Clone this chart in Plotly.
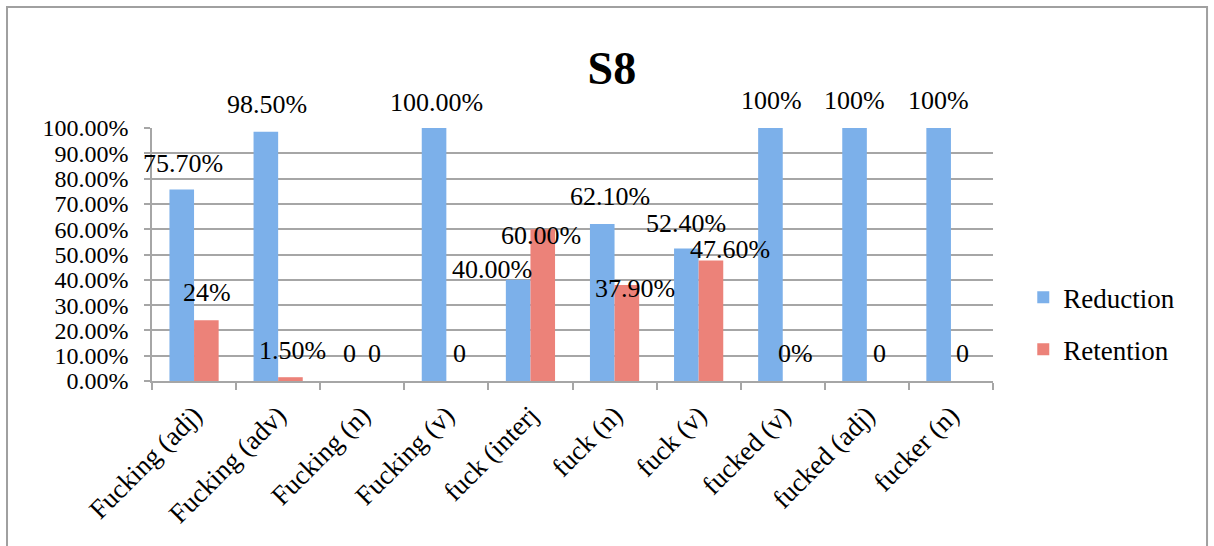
import plotly.graph_objects as go

# ---- data -------------------------------------------------------------
categories = ["Fucking (adj)", "Fucking (adv)", "Fucking (n)", "Fucking (v)", "fuck (interj",
              "fuck (n)", "fuck (v)", "fucked (v)", "fucked (adj)", "fucker (n)"]
reduction = [0.757, 0.985, 0.0, 1.0, 0.40, 0.621, 0.524, 1.0, 1.0, 1.0]
retention = [0.24, 0.015, 0.0, 0.0, 0.60, 0.379, 0.476, 0.0, 0.0, 0.0]
reduction_labels = ["75.70%", "98.50%", "0", "100.00%", "40.00%", "62.10%", "52.40%", "100%", "100%", "100%"]
retention_labels = ["24%", "1.50%", "0", "0", "60.00%", "37.90%", "47.60%", "0%", "0", "0"]
y_ticks = [0.0, 0.1, 0.2, 0.3, 0.4, 0.5, 0.6, 0.7, 0.8, 0.9, 1.0]

# ---- style ------------------------------------------------------------
FONT = "Liberation Serif"
BLUE = "#7cb0ea"
RED = "#ec8279"
GRID = "#a6a6a6"
BARGAP = 0.415
half = (1 - BARGAP) / 4  # centre offset of each bar inside its group

# label nudges in px (right, up) relative to the bar top
red_shift = [(1, 26), (1, 27), (0, 28), (2, 26), (-26, 10), (8, 27), (0, 25), (1, 28), (0, 28), (0, 28)]
ret_shift = [(1, 28), (2, 27), (0, 28), (1, 28), (-2, -6), (8, -3), (19, 11), (0, 28), (0, 28), (-1, 28)]

fig = go.Figure()
fig.add_trace(go.Bar(name="Reduction", x=categories, y=reduction, marker_color=BLUE,
                     marker_line_width=0, legendgroup="a"))
fig.add_trace(go.Bar(name="Retention", x=categories, y=retention, marker_color=RED,
                     marker_line_width=0, legendgroup="b"))

annotations = []
for i in range(len(categories)):
    for vals, labels, shifts, side in ((reduction, reduction_labels, red_shift, -1),
                                       (retention, retention_labels, ret_shift, 1)):
        dx, dy = shifts[i]
        annotations.append(dict(
            x=i + side * half, y=vals[i], xref="x", yref="y",
            text=labels[i], showarrow=False, xanchor="center", yanchor="middle",
            xshift=dx, yshift=dy, font=dict(family=FONT, size=26, color="#000000")))

fig.update_layout(
    width=1214, height=546,
    margin=dict(l=152, r=221, t=128, b=165),
    paper_bgcolor="white", plot_bgcolor="white",
    barmode="group", bargap=BARGAP, bargroupgap=0,
    title=dict(text="<b>S8</b>", x=0.504, y=0.875, xref="container", yref="container",
               xanchor="center", yanchor="middle",
               font=dict(family=FONT, size=46, color="#000000")),
    font=dict(family=FONT, size=26, color="#000000"),
    showlegend=True,
    legend=dict(x=1.036, y=0.426, xanchor="left", yanchor="top",
                font=dict(family=FONT, size=27), tracegroupgap=14,
                bgcolor="rgba(0,0,0,0)"),
    annotations=annotations,
    shapes=[dict(type="rect", xref="paper", yref="paper",
                 x0=-0.1724, x1=1.2545, y0=-0.75, y1=1.478,
                 line=dict(color="#a0a0a0", width=2), fillcolor="rgba(0,0,0,0)", layer="below")],
)

fig.update_xaxes(
    type="category", tickangle=-45, tickson="boundaries", ticks="outside", ticklen=7,
    tickcolor=GRID, tickwidth=1.5, showline=True, linecolor=GRID, linewidth=1.5,
    showgrid=False, ticklabelstandoff=6, tickfont=dict(family=FONT, size=27),
    range=[-0.5, len(categories) - 0.5])
fig.update_yaxes(
    range=[0, 1], tickvals=y_ticks, tickformat=".2%", ticks="outside", ticklen=6,
    tickcolor=GRID, tickwidth=1.5, showline=True, linecolor=GRID, linewidth=1.5,
    showgrid=True, gridcolor=GRID, gridwidth=1.5, zeroline=False,
    ticklabelstandoff=11, tickfont=dict(family=FONT, size=24))

fig.write_html("out.html")
